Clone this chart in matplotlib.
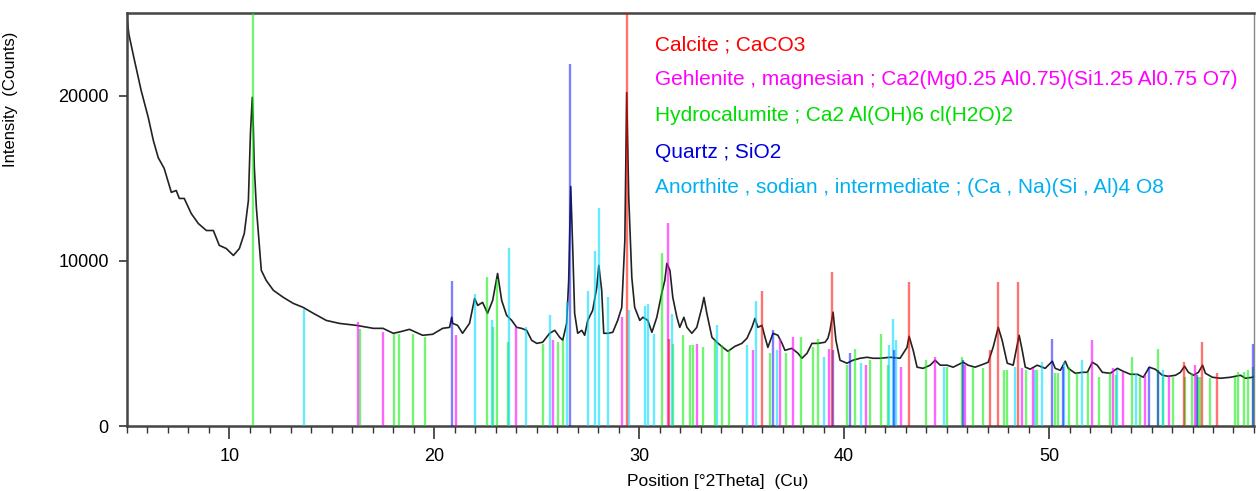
import matplotlib
matplotlib.use("Agg")
import matplotlib.pyplot as plt
from matplotlib.ticker import MultipleLocator

plt.rcParams['font.family'] = ['Liberation Sans', 'DejaVu Sans']

# measured pattern (2theta, counts)
two_theta = [5.0, 5.1, 5.36, 5.7, 6.04, 6.29, 6.53, 6.82, 7.17, 7.41, 7.56, 7.8, 8.14, 8.49,
             8.88, 9.22, 9.51, 9.85, 10.2, 10.49, 10.73, 10.93, 11.03, 11.12, 11.17, 11.22,
             11.32, 11.42, 11.56, 11.8, 12.15, 12.64, 13.12, 13.6, 14.1, 14.73, 15.37, 16.2,
             17.03, 17.5, 18.0, 18.3, 18.79, 19.43, 19.92, 20.41, 20.75, 20.85, 20.9, 21.14,
             21.38, 21.72, 21.97, 22.12, 22.36, 22.6, 22.85, 23.09, 23.29, 23.53, 23.78, 24.02,
             24.26, 24.51, 24.75, 25.0, 25.29, 25.63, 25.88, 26.12, 26.27, 26.46, 26.56, 26.66,
             26.76, 26.85, 27.0, 27.2, 27.34, 27.49, 27.73, 27.93, 28.03, 28.17, 28.27, 28.47,
             28.71, 28.95, 29.15, 29.3, 29.39, 29.49, 29.64, 29.78, 30.03, 30.18, 30.42, 30.62,
             30.86, 31.1, 31.25, 31.35, 31.5, 31.64, 31.84, 31.98, 32.18, 32.33, 32.57, 32.81,
             33.06, 33.16, 33.3, 33.55, 33.79, 34.08, 34.33, 34.67, 35.01, 35.26, 35.5, 35.65,
             35.79, 35.99, 36.14, 36.28, 36.53, 36.77, 36.97, 37.11, 37.45, 37.75, 37.94, 38.19,
             38.43, 38.73, 39.07, 39.21, 39.31, 39.46, 39.6, 39.8, 40.14, 40.43, 40.78, 41.12,
             41.41, 41.75, 42.24, 42.73, 43.07, 43.17, 43.37, 43.56, 43.85, 44.2, 44.44, 44.69,
             45.03, 45.32, 45.81, 46.05, 46.39, 46.79, 47.03, 47.27, 47.52, 47.71, 47.96, 48.25,
             48.54, 48.69, 48.84, 49.08, 49.42, 49.81, 50.16, 50.3, 50.55, 50.79, 50.94, 51.28,
             51.62, 51.87, 52.11, 52.35, 52.6, 52.99, 53.33, 53.62, 53.97, 54.31, 54.6, 54.89,
             55.19, 55.53, 55.82, 56.17, 56.41, 56.61, 56.8, 57.05, 57.29, 57.49, 57.63, 57.97,
             58.36, 58.85, 59.34, 59.58, 59.93, 60.0]
counts = [24800, 23700, 22200, 20300, 18700, 17300, 16250, 15600, 14150, 14260, 13780, 13780,
          12870, 12260, 11840, 11840, 10940, 10750, 10330, 10750, 11660, 13650, 17700, 19900,
          18070, 15650, 13230, 11660, 9430, 8820, 8220, 7790, 7430, 7190, 6830, 6400, 6220,
          6100, 5920, 5920, 5620, 5700, 5860, 5500, 5560, 5920, 5980, 6590, 6220, 6100, 5620,
          6220, 7730, 7310, 7490, 6830, 7610, 9240, 7610, 6710, 6400, 5980, 5920, 5800, 5200,
          5010, 5080, 5620, 5800, 5380, 5200, 6220, 8820, 14500, 10630, 6830, 5620, 5800, 5500,
          6400, 7010, 8400, 9730, 8220, 5620, 5620, 5680, 6400, 7190, 11240, 20180, 13840, 9000,
          7190, 6400, 6590, 6400, 5680, 6590, 8040, 8820, 9850, 9430, 7790, 6590, 5980, 6590,
          5980, 5620, 5980, 7190, 7790, 6830, 5380, 5080, 4770, 4530, 4830, 5010, 5320, 5980,
          6520, 5980, 6100, 5380, 4770, 5620, 5500, 5010, 4590, 4710, 4410, 4110, 4410, 5010,
          5010, 5080, 5320, 5800, 6900, 5200, 3990, 3810, 3990, 4110, 4170, 4110, 4110, 4170,
          4110, 4770, 5440, 4590, 3570, 3500, 3690, 3990, 3690, 3690, 3570, 3870, 3690, 3570,
          3750, 3870, 4770, 5980, 5200, 3810, 3690, 5500, 4590, 3570, 3450, 3690, 3500, 3930,
          3500, 3380, 3930, 3500, 3200, 3260, 3260, 3870, 3690, 3260, 3200, 3500, 3320, 3140,
          3140, 2960, 3570, 3440, 3080, 3020, 3080, 3260, 3630, 3260, 3080, 3260, 3690, 3200,
          2960, 2900, 2960, 3080, 2900, 2960, 3000]

# reference patterns (stick positions and heights)
calcite_pos = [29.4, 31.45, 36.0, 39.4, 43.15, 47.13, 47.5, 48.5, 56.6, 57.45, 58.2]
calcite_int = [26000, 5300, 8200, 9300, 8700, 4600, 8700, 8700, 3900, 5100, 3200]

gehlenite_pos = [16.3, 17.52, 21.04, 24.0, 25.78, 29.15, 31.4, 32.81, 35.55, 36.87, 37.5,
                 39.26, 41.07, 42.78, 44.44, 45.9, 48.69, 49.23, 52.11, 53.14, 53.62, 54.7,
                 55.87, 57.14]
gehlenite_int = [6300, 5700, 5500, 6000, 5200, 6600, 12300, 5000, 4600, 5300, 5400, 4700,
                 3700, 3600, 4200, 3700, 3500, 3500, 5200, 3500, 3300, 3100, 3100, 3700]

hydrocal_pos = [11.17, 16.4, 18.06, 18.3, 18.94, 19.53, 22.55, 22.85, 23.04, 23.58, 25.29,
                26.02, 26.27, 31.1, 31.64, 32.13, 32.47, 32.62, 33.11, 33.69, 34.03, 34.38,
                36.38, 37.16, 37.89, 38.48, 38.72, 40.14, 40.53, 41.27, 41.8, 42.14, 44.0,
                45.03, 45.76, 46.3, 46.79, 47.81, 47.96, 48.89, 49.42, 50.3, 50.45, 50.99,
                51.38, 51.9, 52.45, 52.99, 53.28, 54.06, 54.45, 55.33, 55.58, 56.07, 56.65,
                56.99, 57.29, 57.38, 57.87, 59.05, 59.24, 59.49, 59.73, 59.93]
hydrocal_int = [26000, 5900, 5600, 5600, 5600, 5400, 9000, 6000, 8900, 5100, 5000, 5100, 5200,
                10500, 5000, 5500, 4900, 4900, 4800, 5200, 4900, 4600, 4400, 4400, 5400, 4800,
                5300, 3700, 4700, 4000, 5600, 3700, 4000, 3600, 4200, 3600, 3500, 3400, 3400,
                3400, 3400, 3200, 3200, 3600, 3200, 3300, 3000, 3200, 3100, 4200, 3000, 4700,
                3000, 3000, 3000, 3200, 3000, 3000, 2900, 3000, 3300, 3300, 3400, 3600]

quartz_pos = [20.85, 26.64, 36.54, 39.46, 40.3, 42.44, 45.81, 50.14, 50.69, 54.87, 55.3,
              57.24, 59.96]
quartz_int = [8800, 21900, 5800, 4600, 4400, 4600, 4000, 5300, 3600, 3600, 3400, 3100, 5000]

anorthite_pos = [13.66, 21.97, 22.8, 23.63, 24.5, 25.63, 26.46, 27.49, 27.83, 28.03, 28.47,
                 29.49, 30.27, 30.42, 30.71, 31.59, 33.79, 35.26, 35.7, 36.72, 39.02, 40.82,
                 42.2, 42.39, 42.54, 44.85, 48.35, 49.33, 49.66, 50.74, 51.62, 53.33, 54.26,
                 55.58]
anorthite_int = [7100, 8000, 6400, 10800, 6000, 6700, 7500, 8200, 10600, 13200, 7800, 7000,
                 7300, 7400, 5600, 6800, 6100, 4900, 7600, 4600, 4200, 3800, 4900, 6500, 5200,
                 3600, 3600, 3400, 3900, 3900, 4000, 3400, 3200, 3400]

phase_labels = ["Calcite ; CaCO3",
                "Gehlenite , magnesian ; Ca2(Mg0.25 Al0.75)(Si1.25 Al0.75 O7)",
                "Hydrocalumite ; Ca2 Al(OH)6 cl(H2O)2",
                "Quartz ; SiO2",
                "Anorthite , sodian , intermediate ; (Ca , Na)(Si , Al)4 O8"]
label_colors = ["#ff0000", "#ff00ff", "#00dd00", "#0000dd", "#00b0f0"]

fig = plt.figure(figsize=(12.56, 4.91), dpi=100)
ax = fig.add_axes([0.101, 0.132, 0.8974, 0.8415])

ax.plot(two_theta, counts, color="#222222", lw=1.2, zorder=2)

# sticks drawn semi-transparent over the scan
ax.vlines(hydrocal_pos, 0, hydrocal_int, colors="#00ee00", lw=1.7, alpha=0.55, zorder=3)
ax.vlines(anorthite_pos, 0, anorthite_int, colors="#00ddff", lw=1.7, alpha=0.6, zorder=3)
ax.vlines(gehlenite_pos, 0, gehlenite_int, colors="#ff00ff", lw=1.7, alpha=0.6, zorder=3)
ax.vlines(quartz_pos, 0, quartz_int, colors="#0000ff", lw=1.7, alpha=0.5, zorder=3)
ax.vlines(calcite_pos, 0, calcite_int, colors="#ff0000", lw=1.7, alpha=0.55, zorder=3)

# phase names
label_y = [23080, 20970, 18790, 16560, 14440]
for txt, col, yy in zip(phase_labels, label_colors, label_y):
    ax.text(30.75, yy, txt, color=col, fontsize=15, va="center", ha="left", zorder=4)

ax.set_xlim(5, 60)
ax.set_ylim(0, 25000)
ax.set_xticks([10, 20, 30, 40, 50])
ax.xaxis.set_minor_locator(MultipleLocator(1))
ax.set_yticks([0, 10000, 20000])

ax.tick_params(axis="x", which="major", length=9, width=1.2, pad=7, labelsize=13, colors="#333333")
ax.tick_params(axis="x", which="minor", length=5, width=1.0, colors="#333333")
ax.tick_params(axis="y", length=6, width=1.2, pad=7, labelsize=13, colors="#333333")
ax.tick_params(labelcolor="black")

for side in ["left", "bottom", "top"]:
    ax.spines[side].set_color("#444444")
    ax.spines[side].set_linewidth(1.8)
ax.spines["right"].set_color("#888888")
ax.spines["right"].set_linewidth(1.0)

ax.set_xlabel("Position [°2Theta]  (Cu)", fontsize=12.5)
ax.xaxis.set_label_coords(0.524, -0.115)
ax.set_ylabel("Intensity  (Counts)", fontsize=12)
ax.yaxis.set_label_coords(-0.097, 0.79)

fig.savefig("out.png", dpi=100)
